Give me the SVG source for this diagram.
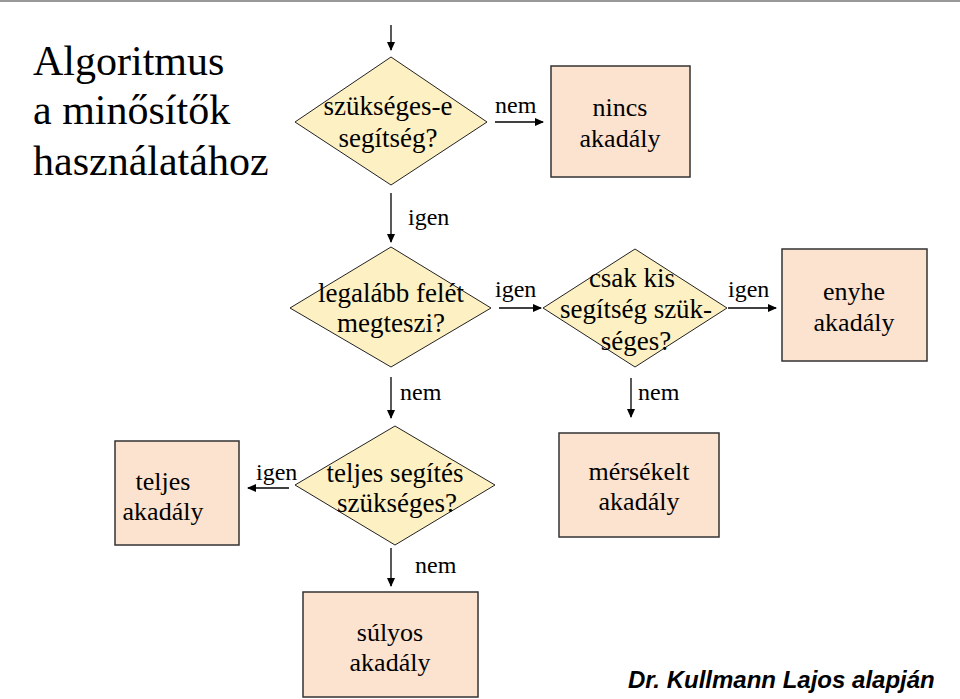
<svg xmlns="http://www.w3.org/2000/svg" width="960" height="699" viewBox="0 0 960 699" font-family="'Liberation Serif','Times New Roman',serif">
<style>
.t{fill:#000;text-anchor:middle}
.dt{font-size:27px}
.bt{font-size:26px}
.lb{font-size:24px;fill:#000}
.dia{fill:#FDF1C4;stroke:#222;stroke-width:1}
.box{fill:#FCE3CF;stroke:#333;stroke-width:1.5}
.ln{stroke:#000;stroke-width:1.3;fill:none;marker-end:url(#ah)}
</style>
<defs>
<marker id="ah" markerWidth="9" markerHeight="8" refX="8" refY="4" orient="auto" markerUnits="userSpaceOnUse">
<path d="M0,0 L9,4 L0,8 Z" fill="#000"/>
</marker>
</defs>
<rect x="0" y="0" width="960" height="699" fill="#fff"/>
<line x1="0" y1="1" x2="960" y2="1" stroke="#777" stroke-width="1.5"/>
<g id="title" font-size="42" fill="#000">
<text x="33" y="75">Algoritmus</text>
<text x="33" y="124">a minősítők</text>
<text x="33" y="175">használatához</text>
</g>
<g id="connectors">
<line class="ln" x1="391" y1="25" x2="391" y2="50"/>
<line class="ln" x1="495" y1="122" x2="543" y2="122"/>
<text class="lb" x="495" y="113">nem</text>
<line class="ln" x1="391" y1="193" x2="391" y2="242"/>
<text class="lb" x="408" y="225">igen</text>
<line class="ln" x1="499" y1="308" x2="541" y2="308"/>
<text class="lb" x="495" y="297">igen</text>
<line class="ln" x1="728" y1="308" x2="776" y2="308"/>
<text class="lb" x="728" y="297">igen</text>
<line class="ln" x1="391" y1="377" x2="391" y2="418"/>
<text class="lb" x="400" y="400">nem</text>
<line class="ln" x1="631" y1="378" x2="631" y2="417"/>
<text class="lb" x="638" y="400">nem</text>
<line class="ln" x1="289" y1="488" x2="248" y2="488"/>
<text class="lb" x="256" y="480">igen</text>
<line class="ln" x1="391" y1="548" x2="391" y2="586"/>
<text class="lb" x="415" y="573">nem</text>
</g>
<g id="d1">
<polygon class="dia" points="391,57 487,122 391,185 295,122"/>
<text class="t dt" x="388" y="115">szükséges-e</text>
<text class="t dt" x="388" y="147">segítség?</text>
</g>
<g id="nincs">
<rect class="box" x="551" y="66" width="139" height="111"/>
<text class="t bt" x="620" y="116">nincs</text>
<text class="t bt" x="620" y="147">akadály</text>
</g>
<g id="d2">
<polygon class="dia" points="391,247 491,308 391,367 290,308"/>
<text class="t dt" x="391" y="302">legalább felét</text>
<text class="t dt" x="391" y="332">megteszi?</text>
</g>
<g id="d3">
<polygon class="dia" points="635,249 727,308 635,367 543,308"/>
<text class="t dt" x="632" y="287">csak kis</text>
<text class="t dt" x="636" y="318">segítség szük-</text>
<text class="t dt" x="636" y="350">séges?</text>
</g>
<g id="enyhe">
<rect class="box" x="782" y="249" width="145" height="112"/>
<text class="t bt" x="854" y="300">enyhe</text>
<text class="t bt" x="854" y="331">akadály</text>
</g>
<g id="d4">
<polygon class="dia" points="395,426 495,485 395,545 295,485"/>
<text class="t dt" x="395" y="482">teljes segítés</text>
<text class="t dt" x="397" y="512">szükséges?</text>
</g>
<g id="teljes">
<rect class="box" x="115" y="441" width="124" height="104"/>
<text class="t bt" x="163" y="490">teljes</text>
<text class="t bt" x="163" y="520">akadály</text>
</g>
<g id="merseklet">
<rect class="box" x="559" y="433" width="160" height="104"/>
<text class="t bt" x="639" y="480">mérsékelt</text>
<text class="t bt" x="639" y="510">akadály</text>
</g>
<g id="sulyos">
<rect class="box" x="303" y="592" width="175" height="105"/>
<text class="t bt" x="390" y="641">súlyos</text>
<text class="t bt" x="390" y="671">akadály</text>
</g>
<text x="628" y="688" font-family="'Liberation Sans',Arial,sans-serif" font-size="24" font-weight="bold" font-style="italic" fill="#000">Dr. Kullmann Lajos alapján</text>
</svg>
